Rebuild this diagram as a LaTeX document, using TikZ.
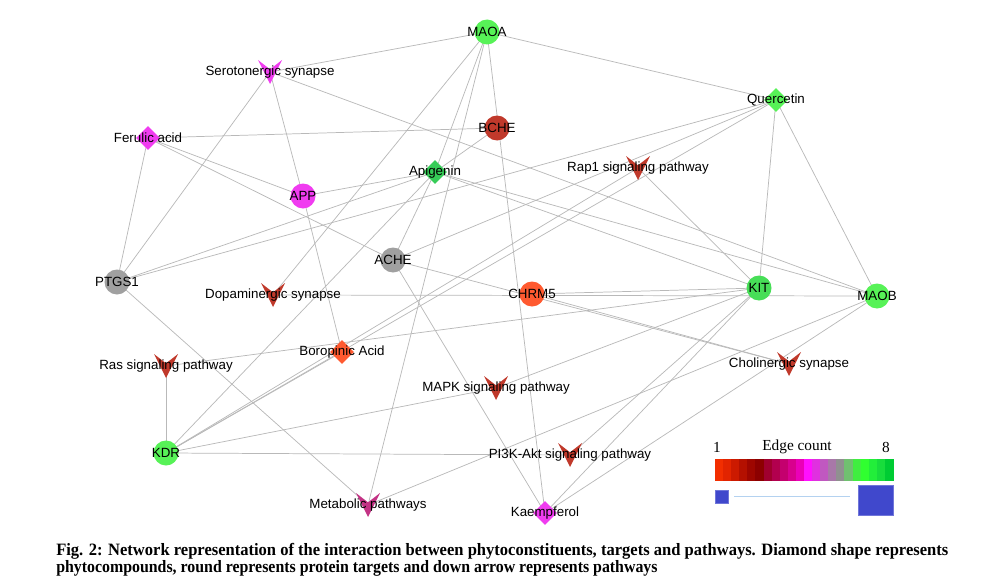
\documentclass[tikz,border=0pt]{standalone}
\usepackage{fontspec}
\setmainfont{Liberation Serif}
\newfontfamily\netfont{Liberation Sans}
\usetikzlibrary{shapes.geometric, backgrounds}
\definecolor{netgreen}{HTML}{57F257}
\definecolor{kitgreen}{HTML}{47DE57}
\definecolor{apigreen}{HTML}{36CC57}
\definecolor{netpink}{HTML}{F03CF0}
\definecolor{netgray}{HTML}{A0A0A0}
\definecolor{netred}{HTML}{C0392B}
\definecolor{netorange}{HTML}{FF5A30}
\definecolor{netplum}{HTML}{C33385}
\definecolor{legblue}{HTML}{4048CC}
\definecolor{legline}{HTML}{B4D2F0}

\begin{document}
\begin{tikzpicture}[
    x=0.75pt, y=-0.75pt,
    target/.style={circle, fill=#1, minimum size=18.75pt, inner sep=0pt},
    compound/.style={diamond, fill=#1, minimum size=18pt, inner sep=0pt},
    pathway/.style={rectangle, minimum size=18pt, inner sep=0pt,
        path picture={\fill[#1] (path picture bounding box.north west)
            -- ([yshift=-7pt]path picture bounding box.north)
            -- (path picture bounding box.north east)
            -- (path picture bounding box.south) -- cycle;}},
    tag/.style={font=\netfont\fontsize{10}{12}\selectfont, inner sep=0pt, text=black},
    edge/.style={draw=gray!55, line width=0.55pt},
    legtext/.style={font=\fontsize{11.5}{13}\selectfont, inner sep=0pt},
    captext/.style={anchor=west, inner sep=0pt, font=\bfseries\fontsize{13}{15}\selectfont},
    sizebox/.style={rectangle, fill=legblue, draw=legblue!75!white, line width=0.4pt, inner sep=0pt}
]
\useasboundingbox (0,0) rectangle (998,585);

% targets
\node[target=netgreen, label={[tag]center:MAOA}] (maoa) at (487,32) {};
\node[target=netred, label={[tag]center:BCHE}] (bche) at (497,128) {};
\node[target=netpink, label={[tag]center:APP}] (app) at (303,196) {};
\node[target=netgray, label={[tag]center:ACHE}] (ache) at (393,260) {};
\node[target=netgray, label={[tag]center:PTGS1}] (ptgs1) at (117,282) {};
\node[target=netorange, label={[tag]center:CHRM5}] (chrm5) at (532,294) {};
\node[target=kitgreen, label={[tag]center:KIT}] (kit) at (759,288) {};
\node[target=netgreen, label={[tag]center:MAOB}] (maob) at (877,296) {};
\node[target=netgreen, label={[tag]center:KDR}] (kdr) at (166,453) {};

% compounds
\node[compound=netpink, label={[tag]center:Ferulic acid}] (ferulic) at (148,138) {};
\node[compound=netgreen, label={[tag]center:Quercetin}] (quercetin) at (776,100) {};
\node[compound=apigreen, label={[tag]center:Apigenin}] (apigenin) at (435,172) {};
\node[compound=netorange, label={[tag]center:Boropinic Acid}] (boropinic) at (342,352) {};
\node[compound=netpink, label={[tag]center:Kaempferol}] (kaempferol) at (545,513) {};

% pathways
\node[pathway=netpink, label={[tag]center:Serotonergic synapse}] (serotonergic) at (270,72) {};
\node[pathway=netred, label={[tag]center:Rap1 signaling pathway}] (rap1) at (638,168) {};
\node[pathway=netred, label={[tag]center:Dopaminergic synapse}] (dopaminergic) at (273,295) {};
\node[pathway=netred, label={[tag]center:Ras signaling pathway}] (ras) at (166,366) {};
\node[pathway=netred, label={[tag]center:Cholinergic synapse}] (cholinergic) at (789,364) {};
\node[pathway=netred, label={[tag]center:MAPK signaling pathway}] (mapk) at (496,388) {};
\node[pathway=netred, label={[tag]center:PI3K-Akt signaling pathway}] (pi3k) at (570,455) {};
\node[pathway=netplum, label={[tag]center:Metabolic pathways}] (metabolic) at (368,505) {};

\begin{scope}[on background layer]
% compound - target
\draw[edge] (ferulic.center) -- (bche.center);
\draw[edge] (ferulic.center) -- (ptgs1.center);
\draw[edge] (ferulic.center) -- (app.center);
\draw[edge] (ferulic.center) -- (ache.center);
\draw[edge] (apigenin.center) -- (maoa.center);
\draw[edge] (apigenin.center) -- (bche.center);
\draw[edge] (apigenin.center) -- (app.center);
\draw[edge] (apigenin.center) -- (ache.center);
\draw[edge] (apigenin.center) -- (kdr.center);
\draw[edge] (apigenin.center) -- (kit.center);
\draw[edge] (apigenin.center) -- (maob.center);
\draw[edge] (apigenin.center) -- (ptgs1.center);
\draw[edge] (quercetin.center) -- (maoa.center);
\draw[edge] (quercetin.center) -- (kit.center);
\draw[edge] (quercetin.center) -- (maob.center);
\draw[edge] (quercetin.center) -- (ptgs1.center);
\draw[edge] (quercetin.center) -- (kdr.center);
\draw[edge] (quercetin.center) -- (ache.center);
\draw[edge] (boropinic.center) -- (app.center);
\draw[edge] (boropinic.center) -- (kdr.center);
\draw[edge] (kaempferol.center) -- (maoa.center);
\draw[edge] (kaempferol.center) -- (ache.center);
\draw[edge] (kaempferol.center) -- (kit.center);
\draw[edge] (kaempferol.center) -- (maob.center);
% target - pathway
\draw[edge] (maoa.center) -- (serotonergic.center);
\draw[edge] (maoa.center) -- (dopaminergic.center);
\draw[edge] (maoa.center) -- (metabolic.center);
\draw[edge] (maob.center) -- (serotonergic.center);
\draw[edge] (maob.center) -- (dopaminergic.center);
\draw[edge] (maob.center) -- (metabolic.center);
\draw[edge] (ptgs1.center) -- (serotonergic.center);
\draw[edge] (ptgs1.center) -- (metabolic.center);
\draw[edge] (app.center) -- (serotonergic.center);
\draw[edge] (ache.center) -- (cholinergic.center);
\draw[edge] (chrm5.center) -- (cholinergic.center);
\draw[edge] (chrm5.center) -- (kit.center);
\draw[edge] (kit.center) -- (rap1.center);
\draw[edge] (kit.center) -- (ras.center);
\draw[edge] (kit.center) -- (mapk.center);
\draw[edge] (kit.center) -- (pi3k.center);
\draw[edge] (kdr.center) -- (rap1.center);
\draw[edge] (kdr.center) -- (ras.center);
\draw[edge] (kdr.center) -- (mapk.center);
\draw[edge] (kdr.center) -- (pi3k.center);
\end{scope}

% legend
\node[legtext] (lowcount) at (717,447) {1};
\node[legtext] (edgecount) at (797,447) {Edge count};
\node[legtext] (highcount) at (886,447) {8};
\foreach \c [count=\i from 0] in {F22E00,E22400,CC1A00,B41000,9E0600,8C0000,A0002E,B2004E,C4006E,D8008E,EA00B8,FF10FF,E030E0,C058C0,A878A8,909090,70C070,40EE40,30FF30,22EE3A,18DD3C,00CC33}
  {\definecolor{segcol}{HTML}{\c}
   \fill[segcol] ({715+\i*178/22},459) rectangle ({715+(\i+1)*178/22+0.5},481);}
\node[sizebox, minimum size=9.75pt] (minsize) at (721.5,496.5) {};
\node[sizebox, minimum width=26.25pt, minimum height=22.5pt] (maxsize) at (875.5,500) {};
\draw[legline, line width=0.6pt, shorten <=4.5pt, shorten >=6pt] (minsize.east |- 0,496) -- (maxsize.west |- 0,496);

% caption
\node[captext] (capone) at (56,551) {\resizebox{669pt}{\height}{Fig. 2: Network representation of the interaction between phytoconstituents, targets and pathways. Diamond shape represents}};
\node[captext] (captwo) at (56,568) {\resizebox{451pt}{\height}{phytocompounds, round represents protein targets and down arrow represents pathways}};
\end{tikzpicture}
\end{document}
